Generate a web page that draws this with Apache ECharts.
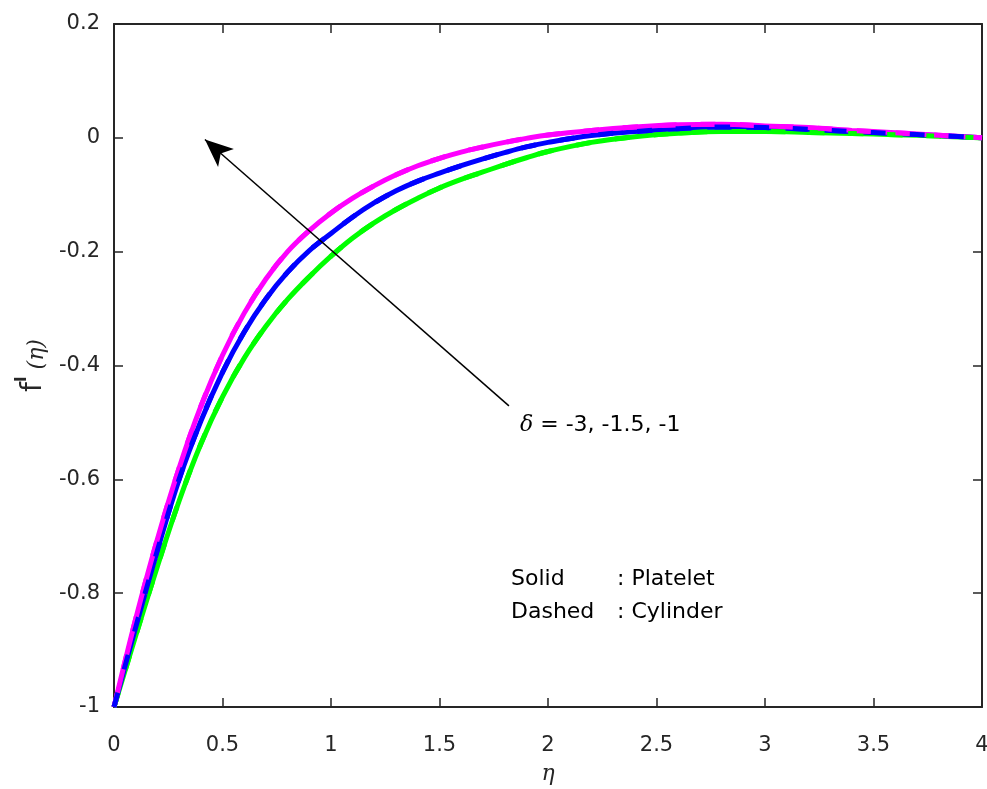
<!DOCTYPE html>
<html>
<head>
<meta charset="utf-8">
<script src="https://cdn.jsdelivr.net/npm/echarts@6/dist/echarts.min.js"></script>
<style>
  html, body { margin: 0; padding: 0; background: #fff; }
  #chart { width: 987px; height: 789px; }
</style>
</head>
<body>
<div id="chart"></div>
<script>
// eta sample points shared by every curve
const eta = [0, 0.1, 0.2, 0.3, 0.4, 0.5, 0.6, 0.7, 0.8, 0.9, 1.0,
             1.1, 1.2, 1.3, 1.4, 1.5, 1.6, 1.7, 1.8, 1.9, 2.0,
             2.2, 2.4, 2.6, 2.8, 3.0, 3.2, 3.4, 3.6, 3.8, 4.0];

// f'(eta), platelet shaped particles, delta = -3, -1.5, -1
const plateletD3 = [-1, -0.875, -0.753, -0.638, -0.538, -0.455, -0.387, -0.331, -0.284, -0.244, -0.208,
                    -0.176, -0.149, -0.126, -0.106, -0.088, -0.073, -0.060, -0.047, -0.035, -0.024,
                    -0.008, 0.002, 0.008, 0.011, 0.011, 0.0095, 0.0075, 0.0055, 0.003, 0];
const plateletD15 = [-1, -0.86, -0.725, -0.60, -0.498, -0.412, -0.341, -0.283, -0.236, -0.198, -0.168,
                     -0.139, -0.114, -0.093, -0.076, -0.062, -0.049, -0.037, -0.026, -0.016, -0.008,
                     0.004, 0.011, 0.016, 0.019, 0.018, 0.015, 0.011, 0.0075, 0.004, 0];
const plateletD1 = [-1, -0.845, -0.705, -0.58, -0.472, -0.382, -0.308, -0.248, -0.200, -0.163, -0.132,
                    -0.106, -0.084, -0.065, -0.049, -0.036, -0.025, -0.016, -0.008, -0.001, 0.005,
                    0.013, 0.019, 0.023, 0.024, 0.021, 0.018, 0.013, 0.009, 0.0045, 0];

// f'(eta), cylinder shaped particles, delta = -3, -1.5, -1
const cylinderD3 = [-1, -0.875, -0.753, -0.638, -0.538, -0.455, -0.387, -0.331, -0.284, -0.244, -0.208,
                    -0.176, -0.149, -0.126, -0.106, -0.088, -0.073, -0.060, -0.047, -0.035, -0.024,
                    -0.008, 0.002, 0.008, 0.011, 0.011, 0.0095, 0.0075, 0.0055, 0.003, 0];
const cylinderD15 = [-1, -0.86, -0.725, -0.60, -0.498, -0.412, -0.341, -0.283, -0.236, -0.198, -0.168,
                     -0.139, -0.114, -0.093, -0.076, -0.062, -0.049, -0.037, -0.026, -0.016, -0.008,
                     0.004, 0.011, 0.016, 0.019, 0.018, 0.015, 0.011, 0.0075, 0.004, 0];
const cylinderD1 = [-1, -0.845, -0.705, -0.58, -0.472, -0.382, -0.308, -0.248, -0.200, -0.163, -0.132,
                    -0.106, -0.084, -0.065, -0.049, -0.036, -0.025, -0.016, -0.008, -0.001, 0.005,
                    0.013, 0.019, 0.023, 0.024, 0.021, 0.018, 0.013, 0.009, 0.0045, 0];

// axis ranges and tick steps
const xRange = [0, 4], xStep = 0.5;
const yRange = [-1, 0.2], yStep = 0.2;

// arrow across the curves (tail -> head), in data coordinates
const arrowTail = [1.82, -0.471];
const arrowHead = [0.419, -0.003];

const GREEN = '#00ff00', BLUE = '#0000ff', MAGENTA = '#ff00ff';
const AXIS = '#262626';
const SANS = '"DejaVu Sans", Arial, Helvetica, sans-serif';
const SERIF = '"DejaVu Serif", "Liberation Serif", serif';

const pairs = (ys) => eta.map((x, i) => [x, ys[i]]);

function curve(name, ys, color, dashed) {
  return {
    name, type: 'line', data: pairs(ys), smooth: 0.4,
    showSymbol: false, symbol: 'none', silent: true, animation: false,
    lineStyle: { color, width: 5, type: dashed ? [15, 24] : 'solid', cap: 'butt' },
    z: dashed ? 3 : 2
  };
}

const series = [
  curve('Platelet δ=-3', plateletD3, GREEN, false),
  curve('Platelet δ=-1.5', plateletD15, BLUE, false),
  curve('Platelet δ=-1', plateletD1, MAGENTA, false),
  curve('Cylinder δ=-3', cylinderD3, GREEN, true),
  curve('Cylinder δ=-1', cylinderD1, MAGENTA, true),
  curve('Cylinder δ=-1.5', cylinderD15, BLUE, true)
];

// arrow annotation
series.push({
  type: 'line', data: [], silent: true, animation: false, z: 5,
  markLine: {
    silent: true, animation: false,
    symbol: ['none', 'arrow'], symbolSize: [18, 28],
    label: { show: false },
    lineStyle: { color: '#000', width: 1.5, type: 'solid' },
    data: [[{ coord: arrowTail }, { coord: arrowHead }]]
  }
});

const tickCommon = { inside: true, length: 9, lineStyle: { color: AXIS, width: 1.5 } };

const option = {
  backgroundColor: '#fff',
  animation: false,
  grid: { left: 114, right: 5, top: 24, bottom: 82, containLabel: false, outerBoundsMode: 'none' },
  xAxis: [{
    type: 'value', min: xRange[0], max: xRange[1], interval: xStep,
    name: 'η', nameLocation: 'middle', nameGap: 56,
    nameTextStyle: { fontFamily: SERIF, fontStyle: 'italic', fontSize: 22, color: AXIS },
    axisLine: { show: true, onZero: false, lineStyle: { color: AXIS, width: 2 } },
    axisTick: tickCommon,
    axisLabel: { fontFamily: SANS, fontSize: 21, color: AXIS, margin: 28 },
    splitLine: { show: false }
  }, {
    type: 'value', position: 'top', min: xRange[0], max: xRange[1], interval: xStep,
    axisLine: { show: true, onZero: false, lineStyle: { color: AXIS, width: 2 } },
    axisTick: tickCommon, axisLabel: { show: false }, splitLine: { show: false }
  }],
  yAxis: [{
    type: 'value', min: yRange[0], max: yRange[1], interval: yStep,
    name: '{f|f}{sup|I}{eta| (η)}', nameLocation: 'middle', nameGap: 62, nameRotate: 90,
    nameTextStyle: {
      color: AXIS,
      rich: {
        f: { fontFamily: SANS, fontSize: 28, color: AXIS, lineHeight: 34, verticalAlign: 'bottom' },
        sup: { fontFamily: SANS, fontSize: 15, fontWeight: 'bold', color: AXIS, verticalAlign: 'top', lineHeight: 34 },
        eta: { fontFamily: SERIF, fontStyle: 'italic', fontSize: 22, color: AXIS, lineHeight: 34, verticalAlign: 'bottom' }
      }
    },
    axisLine: { show: true, onZero: false, lineStyle: { color: AXIS, width: 2 } },
    axisTick: tickCommon,
    axisLabel: { fontFamily: SANS, fontSize: 21, color: AXIS, margin: 14 },
    splitLine: { show: false }
  }, {
    type: 'value', position: 'right', min: yRange[0], max: yRange[1], interval: yStep,
    axisLine: { show: true, onZero: false, lineStyle: { color: AXIS, width: 2 } },
    axisTick: tickCommon, axisLabel: { show: false }, splitLine: { show: false }
  }],
  graphic: [
    {
      type: 'text', left: 520, top: 414, silent: true,
      style: {
        text: '{d|δ}{t| = -3, -1.5, -1}',
        rich: {
          d: { fontFamily: SERIF, fontStyle: 'italic', fontSize: 22, fill: '#000' },
          t: { fontFamily: SANS, fontSize: 22, fill: '#000' }
        }
      }
    },
    { type: 'text', left: 511, top: 568, silent: true,
      style: { text: 'Solid', fontFamily: SANS, fontSize: 22, fill: '#000' } },
    { type: 'text', left: 617, top: 568, silent: true,
      style: { text: ': Platelet', fontFamily: SANS, fontSize: 22, fill: '#000' } },
    { type: 'text', left: 511, top: 601, silent: true,
      style: { text: 'Dashed', fontFamily: SANS, fontSize: 22, fill: '#000' } },
    { type: 'text', left: 617, top: 601, silent: true,
      style: { text: ': Cylinder', fontFamily: SANS, fontSize: 22, fill: '#000' } }
  ],
  series
};

const chart = echarts.init(document.getElementById('chart'), null, { renderer: 'canvas' });
chart.setOption(option);
</script>
</body>
</html>
